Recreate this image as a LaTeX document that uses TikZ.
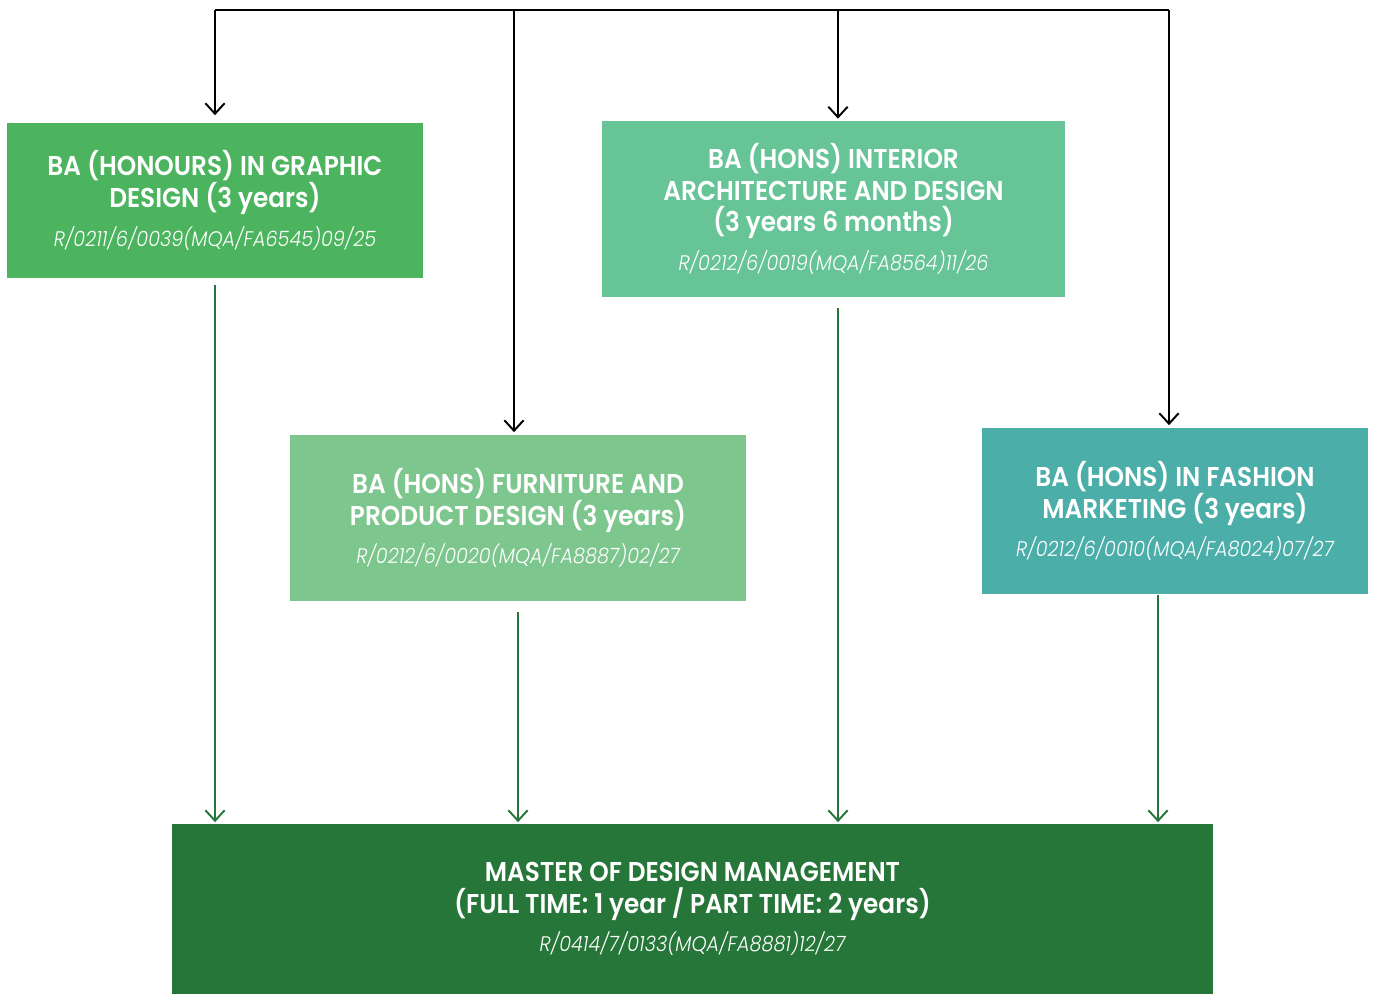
\documentclass[tikz,border=0pt]{standalone}
\usepackage{fontspec}
\setmainfont{Poppins}[FakeStretch=0.91, BoldFont=* SemiBold, ItalicFont=* Light Italic]
\usetikzlibrary{arrows.meta}

\definecolor{graphicgreen}{HTML}{4CB35F}
\definecolor{interiorgreen}{HTML}{66C496}
\definecolor{furnituregreen}{HTML}{7DC68E}
\definecolor{fashionteal}{HTML}{4BAEA8}
\definecolor{masterdark}{HTML}{267639}

\tikzset{
  course/.style={rectangle, inner sep=0pt, text=white, align=center,
    font=\bfseries\fontsize{15.5}{18}\selectfont},
  feed/.style={line width=1.1pt, -{Straight Barb[length=6pt, width=11pt, line width=1.1pt]}},
}
\newcommand{\code}[1]{\\[4pt]{\mdseries\itshape\fontsize{12}{13}\selectfont #1}}

\begin{document}
\begin{tikzpicture}[x=0.02cm, y=-0.02cm]
                    \useasboundingbox (0, 0) rectangle (1373, 994);

                    \node (graphic) at (215, 200.5) [course, fill=graphicgreen, minimum width=8.32cm, minimum height=3.1cm]
                      {BA (HONOURS) IN GRAPHIC\\DESIGN (3 years)\code{R/0211/6/0039(MQA/FA6545)09/25}};
                    \node (interior) at (833.5, 209) [course, fill=interiorgreen, minimum width=9.26cm, minimum height=3.52cm]
                      {BA (HONS) INTERIOR\\ARCHITECTURE AND DESIGN\\(3 years 6 months)\code{R/0212/6/0019(MQA/FA8564)11/26}};
                    \node (furniture) at (518, 518) [course, fill=furnituregreen, minimum width=9.12cm, minimum height=3.32cm]
                      {BA (HONS) FURNITURE AND\\PRODUCT DESIGN (3 years)\code{R/0212/6/0020(MQA/FA8887)02/27}};
                    \node (fashion) at (1175, 511) [course, fill=fashionteal, minimum width=7.72cm, minimum height=3.32cm]
                      {BA (HONS) IN FASHION\\MARKETING (3 years)\code{R/0212/6/0010(MQA/FA8024)07/27}};
                    \node (master) at (692.5, 909) [course, fill=masterdark, minimum width=20.82cm, minimum height=3.4cm]
                      {MASTER OF DESIGN MANAGEMENT\\(FULL TIME: 1 year / PART TIME: 2 years)\code{R/0414/7/0133(MQA/FA8881)12/27}};

                    % split line along the top
                    \coordinate (top1) at (215, 10);
                    \coordinate (top2) at (514, 10);
                    \coordinate (top3) at (838, 10);
                    \coordinate (top4) at (1169, 10);
                    \draw[line width=1.1pt] (top1) -- (top4);
                    \draw[feed, shorten >=1.5mm] (top1) -- (top1 |- graphic.north);
                    \draw[feed, shorten >=0.5mm] (top2) -- (top2 |- furniture.north);
                    \draw[feed, shorten >=0.4mm] (top3) -- (top3 |- interior.north);
                    \draw[feed, shorten >=0.5mm] (top4) -- (top4 |- fashion.north);

                    % down to the master
                    \coordinate (low4) at (1158, 10);
                    \draw[feed, masterdark, shorten <=1.4mm, shorten >=0.3mm] (top1 |- graphic.south) -- (top1 |- master.north);
                    \draw[feed, masterdark, shorten <=2.2mm, shorten >=0.3mm] (furniture.south) -- (furniture.south |- master.north);
                    \draw[feed, masterdark, shorten <=2.2mm, shorten >=0.3mm] (top3 |- interior.south) -- (top3 |- master.north);
                    \draw[feed, masterdark, shorten <=0.2mm, shorten >=0.3mm] (low4 |- fashion.south) -- (low4 |- master.north);
                \end{tikzpicture}
\end{document}
